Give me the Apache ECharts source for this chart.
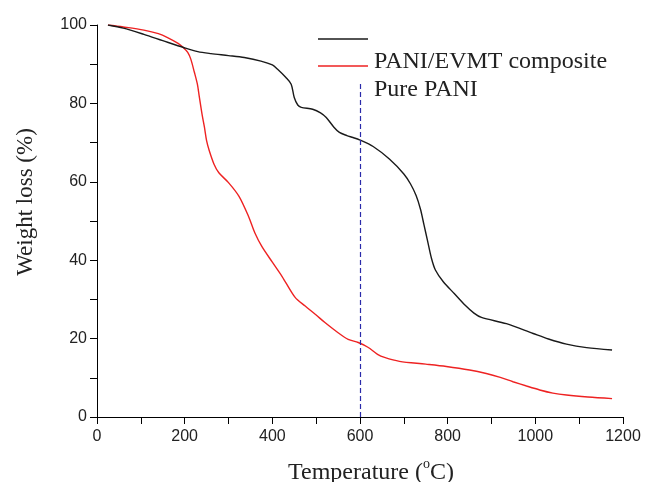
<!DOCTYPE html>
<html>
<head>
<meta charset="utf-8">
<script src="https://cdn.jsdelivr.net/npm/echarts@6/dist/echarts.min.js"></script>
<style>html,body{margin:0;padding:0;background:#fff}#chart{width:648px;height:482px}</style>
</head>
<body>
<div id="chart"></div>
<script>
// Data
var seriesNames = ['PANI/EVMT composite', 'Pure PANI'];
var composite = [[25,100],[60,99.2],[107,97.6],[150,96],[199,94.2],[230,93.2],[260,92.7],[300,92.2],[336,91.7],[374,90.8],[400,89.8],[412,88.7],[431,86.6],[443,84.9],[450,81.5],[458,79.6],[466,79.0],[492,78.5],[510,77.6],[523,76.4],[540,74],[553,72.6],[570,71.8],[584,71.3],[599,70.7],[630,69],[667,65.8],[700,62],[715,59.5],[728,56.5],[738,53],[746,49],[754,45],[763,40.5],[772,37.5],[790,34.5],[815,31.5],[840,28.5],[860,26.5],[877,25.4],[934,23.8],[995,21.3],[1030,19.9],[1071,18.6],[1117,17.7],[1175,17.1]];
var purePani = [[25,100],[60,99.5],[107,98.7],[140,97.8],[161,96.8],[185,95.3],[199,94],[207,93],[214,91.3],[222,88],[229,84.9],[233,82],[240,77],[245,74],[250,70.5],[256,68],[267,64.5],[278,62.3],[300,59.8],[324,56.3],[346,51.1],[360,47],[376,43.5],[400,39.5],[422,35.9],[452,30.5],[475,28.3],[500,26],[520,24.1],[550,21.5],[573,19.8],[596,19],[618,17.8],[640,16],[656,15.2],[690,14.2],[750,13.5],[797,12.9],[850,12],[888,11.1],[920,10.1],[949,9.0],[980,7.9],[1010,6.9],[1040,6.1],[1071,5.6],[1120,5.1],[1175,4.7]];
var markerLine = [[600,0],[600,85]];
var xTicks = [0, 1200, 200];
var yTicks = [0, 100, 20];

var chart = echarts.init(document.getElementById('chart'), null, {renderer:'canvas'});
var axisCommon = {
  axisLine:{show:true, lineStyle:{color:'#000', width:1}},
  axisTick:{show:true, inside:false, length:7, lineStyle:{color:'#000'}},
  minorTick:{show:true, splitNumber:2, length:7, lineStyle:{color:'#000'}},
  splitLine:{show:false}
};
var option = {
  animation:false,
  backgroundColor:'#fff',
  grid:{left:97, right:25, top:25, bottom:65, containLabel:false, outerBoundsMode:'none'},
  xAxis: Object.assign({}, axisCommon, {
    type:'value', min:xTicks[0], max:xTicks[1], interval:xTicks[2],
    name:'{a|Temperature (}{sup|o}{a|C)}', nameLocation:'middle', nameGap:40,
    nameTextStyle:{padding:[0,0,0,22],
      rich:{
        a:{fontFamily:'Liberation Serif', fontSize:24, color:'#222', lineHeight:28, verticalAlign:'bottom'},
        sup:{fontFamily:'Liberation Serif', fontSize:14, color:'#222', lineHeight:28, verticalAlign:'top'}
      }},
    axisLabel:{color:'#222', fontFamily:'Liberation Sans, Arial', fontSize:16, margin:12,
      formatter:function(v){return String(v);}}
  }),
  yAxis: Object.assign({}, axisCommon, {
    type:'value', min:yTicks[0], max:yTicks[1], interval:yTicks[2],
    name:'Weight loss (%)', nameLocation:'middle', nameGap:60, nameRotate:90,
    nameTextStyle:{fontFamily:'Liberation Serif, Times New Roman', fontSize:23, color:'#222', padding:[0,0,0,38]},
    axisLabel:{color:'#222', fontFamily:'Liberation Sans, Arial', fontSize:16, margin:10}
  }),
  series:[
    {name:seriesNames[0], type:'line', data:composite, showSymbol:false, smooth:0.3,
     lineStyle:{color:'#1a1a1a', width:1.4}, z:3,
     markLine:{silent:true, symbol:['none','none'], label:{show:false},
       lineStyle:{color:'#2a2aaa', width:1.2, type:[5,3]},
       data:[[{coord:markerLine[0]},{coord:markerLine[1]}]]}},
    {name:seriesNames[1], type:'line', data:purePani, showSymbol:false, smooth:0.3,
     lineStyle:{color:'#ee2222', width:1.4}, z:2}
  ],
  graphic:[
    {type:'line', shape:{x1:318,y1:39,x2:368,y2:39}, style:{stroke:'#1a1a1a', lineWidth:1.4}},
    {type:'line', shape:{x1:318,y1:66,x2:368,y2:66}, style:{stroke:'#ee2222', lineWidth:1.4}},
    {type:'text', left:374, top:50, style:{text:seriesNames[0], font:'24px "Liberation Serif"', fill:'#222'}},
    {type:'text', left:374, top:78, style:{text:seriesNames[1], font:'24px "Liberation Serif"', fill:'#222'}}
  ]
};
chart.setOption(option);
</script>
</body>
</html>
